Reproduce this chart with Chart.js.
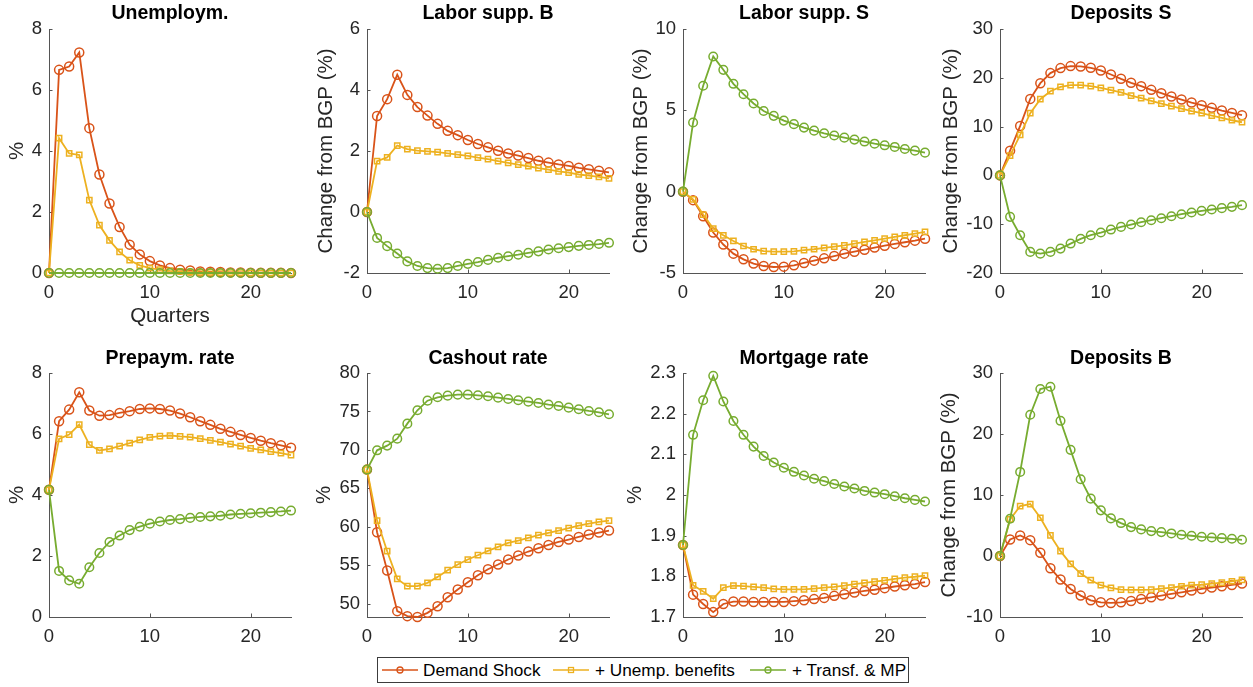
<!DOCTYPE html>
<html>
<head>
<meta charset="utf-8">
<title>Impulse responses</title>
<script src="https://cdn.jsdelivr.net/npm/chart.js@4.4.1/dist/chart.umd.min.js"></script>
<style>
  html, body { margin: 0; padding: 0; background: #fff; overflow: hidden; width: 1253px; height: 687px; }
  #fig { position: relative; width: 1253px; height: 687px; overflow: hidden; background: #fff; }
  #fig canvas { position: absolute; }
  #legend { position: absolute; left: 377px; top: 657px; width: 530px; height: 24px;
            border: 1px solid #3c3c3c; background: #fff;
            font-family: 'Liberation Sans', Arial, Helvetica, sans-serif; font-size: 17.2px; color: #000; }
  .item { position: absolute; top: 0; height: 24px; line-height: 24px; white-space: nowrap; }
  .sample { position: absolute; top: 6px; }
</style>
</head>
<body>
<div id="fig">
  <div id="legend"></div>
</div>
<script>
// ---- data -------------------------------------------------------------
const quarters = [0, 1, 2, 3, 4, 5, 6, 7, 8, 9, 10, 11, 12, 13, 14, 15, 16, 17, 18, 19, 20, 21, 22, 23, 24];
const seriesNames = ['Demand Shock', '+ Unemp. benefits', '+ Transf. & MP'];
const seriesColors = ['#D95319', '#EDB120', '#77AC30'];
const xTicks = [0, 10, 20];

// Unemployment (%)
const unempDemand   = [0, 6.66, 6.77, 7.23, 4.75, 3.23, 2.28, 1.51, 0.93, 0.61, 0.39, 0.25, 0.16, 0.11, 0.08, 0.05, 0.04, 0.03, 0.02, 0.02, 0.01, 0.01, 0.01, 0.01, 0.0];
const unempBenefits = [0, 4.42, 3.92, 3.87, 2.39, 1.57, 1.07, 0.69, 0.42, 0.25, 0.16, 0.11, 0.07, 0.05, 0.03, 0.02, 0.02, 0.01, 0.01, 0.01, 0.0, 0.0, 0.0, 0.0, 0.0];
const unempTransfer = [0, 0, 0, 0, 0, 0, 0, 0, 0, 0, 0, 0, 0, 0, 0, 0, 0, 0, 0, 0, 0, 0, 0, 0, 0];
const unempTicks = [0, 2, 4, 6, 8];

// Labor supply, borrowers
const laborBDemand   = [0, 3.15, 3.70, 4.50, 3.84, 3.44, 3.16, 2.89, 2.66, 2.52, 2.36, 2.23, 2.12, 2.01, 1.92, 1.85, 1.77, 1.68, 1.62, 1.56, 1.51, 1.45, 1.40, 1.35, 1.30];
const laborBBenefits = [0, 1.67, 1.79, 2.18, 2.06, 2.01, 1.99, 1.96, 1.92, 1.88, 1.84, 1.78, 1.73, 1.67, 1.61, 1.55, 1.50, 1.44, 1.39, 1.33, 1.29, 1.23, 1.19, 1.15, 1.10];
const laborBTransfer = [0, -0.85, -1.12, -1.36, -1.62, -1.77, -1.84, -1.86, -1.84, -1.77, -1.70, -1.64, -1.57, -1.50, -1.45, -1.40, -1.34, -1.29, -1.23, -1.19, -1.15, -1.11, -1.08, -1.05, -1.01];
const laborBTicks = [-2, 0, 2, 4, 6];

// Labor supply, savers
const laborSDemand   = [0, -0.52, -1.51, -2.51, -3.25, -3.81, -4.16, -4.42, -4.57, -4.63, -4.61, -4.53, -4.38, -4.24, -4.10, -3.96, -3.81, -3.69, -3.57, -3.44, -3.32, -3.21, -3.11, -3.01, -2.89];
const laborSBenefits = [0, -0.48, -1.41, -2.27, -2.68, -3.03, -3.34, -3.54, -3.65, -3.69, -3.69, -3.67, -3.60, -3.54, -3.46, -3.38, -3.30, -3.19, -3.09, -2.99, -2.88, -2.78, -2.68, -2.58, -2.47];
const laborSTransfer = [0, 4.25, 6.51, 8.31, 7.49, 6.63, 5.99, 5.42, 4.96, 4.66, 4.37, 4.15, 3.94, 3.75, 3.59, 3.45, 3.32, 3.20, 3.08, 2.95, 2.85, 2.75, 2.62, 2.52, 2.40];
const laborSTicks = [-5, 0, 5, 10];

// Deposits, savers
const depSDemand   = [0, 5.07, 10.14, 15.68, 18.90, 20.96, 21.99, 22.40, 22.33, 22.05, 21.51, 20.68, 19.79, 18.97, 18.29, 17.53, 16.85, 16.16, 15.55, 14.93, 14.38, 13.84, 13.29, 12.81, 12.33];
const depSBenefits = [0, 4.04, 8.29, 12.74, 15.62, 17.26, 18.15, 18.49, 18.49, 18.29, 17.95, 17.47, 16.99, 16.37, 15.82, 15.27, 14.73, 14.18, 13.70, 13.15, 12.74, 12.26, 11.78, 11.30, 10.89];
const depSTransfer = [0, -8.49, -12.26, -15.68, -16.03, -15.68, -15.00, -13.97, -13.01, -12.26, -11.71, -11.10, -10.55, -10.07, -9.59, -9.18, -8.77, -8.36, -7.95, -7.60, -7.26, -6.99, -6.71, -6.44, -6.10];
const depSTicks = [-20, -10, 0, 10, 20, 30];

// Prepayment rate (%)
const prepayDemand   = [4.17, 6.42, 6.80, 7.37, 6.77, 6.60, 6.62, 6.69, 6.75, 6.82, 6.84, 6.82, 6.77, 6.67, 6.55, 6.42, 6.30, 6.17, 6.07, 5.97, 5.87, 5.78, 5.70, 5.63, 5.55];
const prepayBenefits = [4.17, 5.84, 5.98, 6.31, 5.65, 5.46, 5.51, 5.60, 5.70, 5.81, 5.89, 5.93, 5.95, 5.92, 5.90, 5.85, 5.79, 5.73, 5.67, 5.60, 5.53, 5.48, 5.42, 5.37, 5.31];
const prepayTransfer = [4.17, 1.51, 1.20, 1.09, 1.63, 2.10, 2.46, 2.67, 2.85, 2.96, 3.06, 3.13, 3.18, 3.21, 3.25, 3.28, 3.30, 3.32, 3.36, 3.38, 3.40, 3.42, 3.44, 3.46, 3.49];
const prepayTicks = [0, 2, 4, 6, 8];

// Cash-out rate (%)
const cashoutDemand   = [67.43, 59.28, 54.30, 49.01, 48.36, 48.25, 48.79, 49.66, 50.83, 51.82, 52.78, 53.69, 54.47, 55.08, 55.73, 56.25, 56.77, 57.20, 57.63, 58.02, 58.33, 58.67, 58.98, 59.24, 59.50];
const cashoutBenefits = [67.43, 60.80, 56.81, 53.21, 52.26, 52.26, 52.69, 53.47, 54.34, 55.08, 55.73, 56.29, 56.85, 57.37, 57.89, 58.20, 58.54, 58.89, 59.19, 59.50, 59.80, 60.15, 60.41, 60.62, 60.80];
const cashoutTransfer = [67.43, 69.94, 70.55, 71.46, 73.41, 75.15, 76.40, 76.84, 77.05, 77.18, 77.18, 77.10, 76.97, 76.79, 76.62, 76.45, 76.27, 76.10, 75.88, 75.71, 75.49, 75.28, 75.06, 74.89, 74.63];
const cashoutTicks = [50, 55, 60, 65, 70, 75, 80];

// Mortgage rate (%)
const mortgageDemand   = [1.877, 1.755, 1.732, 1.712, 1.732, 1.738, 1.738, 1.737, 1.737, 1.737, 1.737, 1.739, 1.741, 1.744, 1.747, 1.752, 1.756, 1.760, 1.764, 1.767, 1.771, 1.775, 1.778, 1.781, 1.786];
const mortgageBenefits = [1.877, 1.778, 1.763, 1.745, 1.772, 1.777, 1.776, 1.774, 1.772, 1.769, 1.768, 1.768, 1.768, 1.770, 1.772, 1.774, 1.777, 1.781, 1.784, 1.787, 1.790, 1.794, 1.797, 1.799, 1.802];
const mortgageTransfer = [1.877, 2.148, 2.233, 2.293, 2.230, 2.182, 2.148, 2.119, 2.096, 2.080, 2.067, 2.057, 2.048, 2.040, 2.034, 2.027, 2.021, 2.016, 2.010, 2.006, 2.002, 1.997, 1.992, 1.988, 1.984];
const mortgageTicks = [1.7, 1.8, 1.9, 2.0, 2.1, 2.2, 2.3];

// Deposits, borrowers
const depBDemand   = [0, 2.71, 3.37, 2.60, 0.52, -2.00, -3.86, -5.40, -6.49, -7.26, -7.59, -7.70, -7.59, -7.37, -7.04, -6.77, -6.49, -6.22, -5.95, -5.67, -5.40, -5.18, -4.96, -4.74, -4.52];
const depBBenefits = [0, 6.00, 8.19, 8.52, 6.27, 3.37, 0.79, -1.29, -2.88, -3.97, -4.79, -5.23, -5.51, -5.56, -5.56, -5.51, -5.34, -5.18, -4.96, -4.79, -4.68, -4.52, -4.36, -4.14, -3.92];
const depBTransfer = [0, 6.11, 13.78, 23.15, 27.37, 27.75, 22.16, 17.40, 12.58, 9.40, 7.48, 6.16, 5.40, 4.74, 4.36, 4.08, 3.92, 3.70, 3.48, 3.32, 3.15, 3.04, 2.93, 2.82, 2.66];
const depBTicks = [-10, 0, 10, 20, 30];

// ---- figure layout ----------------------------------------------------
const FONT = "'Liberation Sans', Arial, Helvetica, sans-serif";
const AXIS_COLOR = '#262626';
const AXIS_LINE = '#555555';
const TICK_LEN = 3.5;
const Y_BOX = 75;       // width reserved left of each axes for tick labels and y label
const X_BOX = 60;       // height reserved below each axes
const PLOT_W = 242;
const TITLE_SIZE = 19.5, TICK_SIZE = 18.5, LABEL_SIZE = 20.5;
const rows = [
  { canvasTop: 2,   plotTop: 29,  plotBottom: 273 },
  { canvasTop: 347, plotTop: 373, plotBottom: 617 }
];
const BGP = 'Change from BGP (%)';

const panels = [
  { title: 'Unemploym.',    yLabel: '%', xLabel: 'Quarters', series: [unempDemand, unempBenefits, unempTransfer],     yMin: 0,     yMax: 8,   yTicks: unempTicks,    row: 0, axisX: 49,  labelGap: 32 },
  { title: 'Labor supp. B', yLabel: BGP, xLabel: '',         series: [laborBDemand, laborBBenefits, laborBTransfer],  yMin: -2,    yMax: 6,   yTicks: laborBTicks,   row: 0, axisX: 367, labelGap: 41 },
  { title: 'Labor supp. S', yLabel: BGP, xLabel: '',         series: [laborSDemand, laborSBenefits, laborSTransfer],  yMin: -5,    yMax: 10,  yTicks: laborSTicks,   row: 0, axisX: 683, labelGap: 42 },
  { title: 'Deposits S',    yLabel: BGP, xLabel: '',         series: [depSDemand, depSBenefits, depSTransfer],        yMin: -20,   yMax: 30,  yTicks: depSTicks,     row: 0, axisX: 1000, labelGap: 49 },
  { title: 'Prepaym. rate', yLabel: '%', xLabel: '',         series: [prepayDemand, prepayBenefits, prepayTransfer],  yMin: 0,     yMax: 8,   yTicks: prepayTicks,   row: 1, axisX: 49,  labelGap: 32 },
  { title: 'Cashout rate',  yLabel: '%', xLabel: '',         series: [cashoutDemand, cashoutBenefits, cashoutTransfer], yMin: 48.25, yMax: 80, yTicks: cashoutTicks, row: 1, axisX: 367, labelGap: 43 },
  { title: 'Mortgage rate', yLabel: '%', xLabel: '',         series: [mortgageDemand, mortgageBenefits, mortgageTransfer], yMin: 1.7, yMax: 2.3, yTicks: mortgageTicks, row: 1, axisX: 683, labelGap: 48 },
  { title: 'Deposits B',    yLabel: BGP, xLabel: '',         series: [depBDemand, depBBenefits, depBTransfer],        yMin: -10,   yMax: 30,  yTicks: depBTicks,     row: 1, axisX: 1000, labelGap: 51 }
];

// Short tick marks pointing into the axes, MATLAB style
const inwardTicks = {
  id: 'inwardTicks',
  beforeDatasetsDraw(chart) {
    const { ctx, chartArea: a, scales: { x, y } } = chart;
    ctx.save();
    ctx.strokeStyle = AXIS_LINE;
    ctx.lineWidth = 1;
    ctx.beginPath();
    y.ticks.forEach(t => {
      const py = Math.round(y.getPixelForValue(t.value)) + 0.5;
      ctx.moveTo(a.left, py);
      ctx.lineTo(a.left + TICK_LEN, py);
    });
    x.ticks.forEach(t => {
      const px = Math.round(x.getPixelForValue(t.value)) + 0.5;
      ctx.moveTo(px, a.bottom);
      ctx.lineTo(px, a.bottom - TICK_LEN);
    });
    ctx.stroke();
    ctx.restore();
  }
};

const fmt = v => String(+(+v).toFixed(3));
const fig = document.getElementById('fig');

panels.forEach(p => {
  const r = rows[p.row];
  const canvas = document.createElement('canvas');
  const width = Y_BOX + PLOT_W + 8;
  const height = r.plotBottom - r.canvasTop + X_BOX;
  canvas.width = width;
  canvas.height = height;
  canvas.style.left = (p.axisX - Y_BOX) + 'px';
  canvas.style.top = r.canvasTop + 'px';
  canvas.style.width = width + 'px';
  canvas.style.height = height + 'px';
  fig.appendChild(canvas);

  const titleLine = TITLE_SIZE * 1.2;
  const labelLine = LABEL_SIZE * 1.2;

  new Chart(canvas, {
    type: 'line',
    data: {
      datasets: p.series.map((vals, i) => ({
        label: seriesNames[i],
        data: quarters.map((q, k) => ({ x: q, y: vals[k] })),
        borderColor: seriesColors[i],
        backgroundColor: 'rgba(0,0,0,0)',
        borderWidth: 1.8,
        tension: 0,
        pointStyle: i === 1 ? 'rect' : 'circle',
        pointRadius: i === 1 ? 3.7 : (i === 0 ? 4.5 : 4.3),
        pointBorderWidth: 1.5,
        pointBorderColor: seriesColors[i],
        pointBackgroundColor: 'rgba(0,0,0,0)',
        order: 3 - i,
        clip: false
      }))
    },
    options: {
      responsive: false,
      animation: false,
      devicePixelRatio: 1,
      events: [],
      layout: { padding: { left: 0, right: 8, top: 0, bottom: 0 } },
      plugins: {
        legend: { display: false },
        tooltip: { enabled: false },
        title: {
          display: true,
          text: p.title,
          fullSize: false,
          color: '#000',
          font: { family: FONT, size: TITLE_SIZE, weight: 'bold' },
          padding: { top: 0, bottom: r.plotTop - r.canvasTop - titleLine }
        }
      },
      scales: {
        x: {
          type: 'linear',
          min: 0,
          max: 24,
          grid: { display: false, drawTicks: false },
          border: { display: true, color: AXIS_LINE, width: 1 },
          ticks: { color: AXIS_COLOR, font: { family: FONT, size: TICK_SIZE }, padding: 8.4, maxRotation: 0, autoSkip: false, callback: fmt },
          afterBuildTicks: s => { s.ticks = xTicks.map(v => ({ value: v })); },
          afterFit: s => { s.height = X_BOX; },
          title: {
            display: !!p.xLabel,
            text: p.xLabel,
            color: AXIS_COLOR,
            font: { family: FONT, size: LABEL_SIZE },
            padding: { top: 0, bottom: 17 - labelLine / 2 }
          }
        },
        y: {
          type: 'linear',
          min: p.yMin,
          max: p.yMax,
          grid: { display: false, drawTicks: false },
          border: { display: true, color: AXIS_LINE, width: 1 },
          ticks: { color: AXIS_COLOR, font: { family: FONT, size: TICK_SIZE }, padding: 7, autoSkip: false, callback: fmt },
          afterBuildTicks: s => { s.ticks = p.yTicks.map(v => ({ value: v })); },
          afterFit: s => { s.width = Y_BOX; },
          title: {
            display: true,
            text: p.yLabel,
            color: AXIS_COLOR,
            font: { family: FONT, size: LABEL_SIZE },
            padding: { top: Y_BOX - p.labelGap - labelLine / 2, bottom: 0 }
          }
        }
      }
    },
    plugins: [inwardTicks]
  });
});

// ---- shared legend ----------------------------------------------------
const legend = document.getElementById('legend');
const legendPos = [[4, 45], [175, 217], [372, 414]];
seriesNames.forEach((name, i) => {
  const c = seriesColors[i];
  const marker = i === 1
    ? `<rect x="15.5" y="3.5" width="5" height="5" fill="none" stroke="${c}" stroke-width="1.3"/>`
    : `<circle cx="18" cy="6" r="3" fill="none" stroke="${c}" stroke-width="1.3"/>`;
  const svg = document.createElementNS('http://www.w3.org/2000/svg', 'svg');
  svg.setAttribute('class', 'sample');
  svg.setAttribute('width', '36');
  svg.setAttribute('height', '12');
  svg.style.left = legendPos[i][0] + 'px';
  svg.innerHTML = `<line x1="0" y1="6" x2="36" y2="6" stroke="${c}" stroke-width="1.6"/>` + marker;
  legend.appendChild(svg);
  const label = document.createElement('div');
  label.className = 'item';
  label.style.left = legendPos[i][1] + 'px';
  label.textContent = name;
  legend.appendChild(label);
});
</script>
</body>
</html>
